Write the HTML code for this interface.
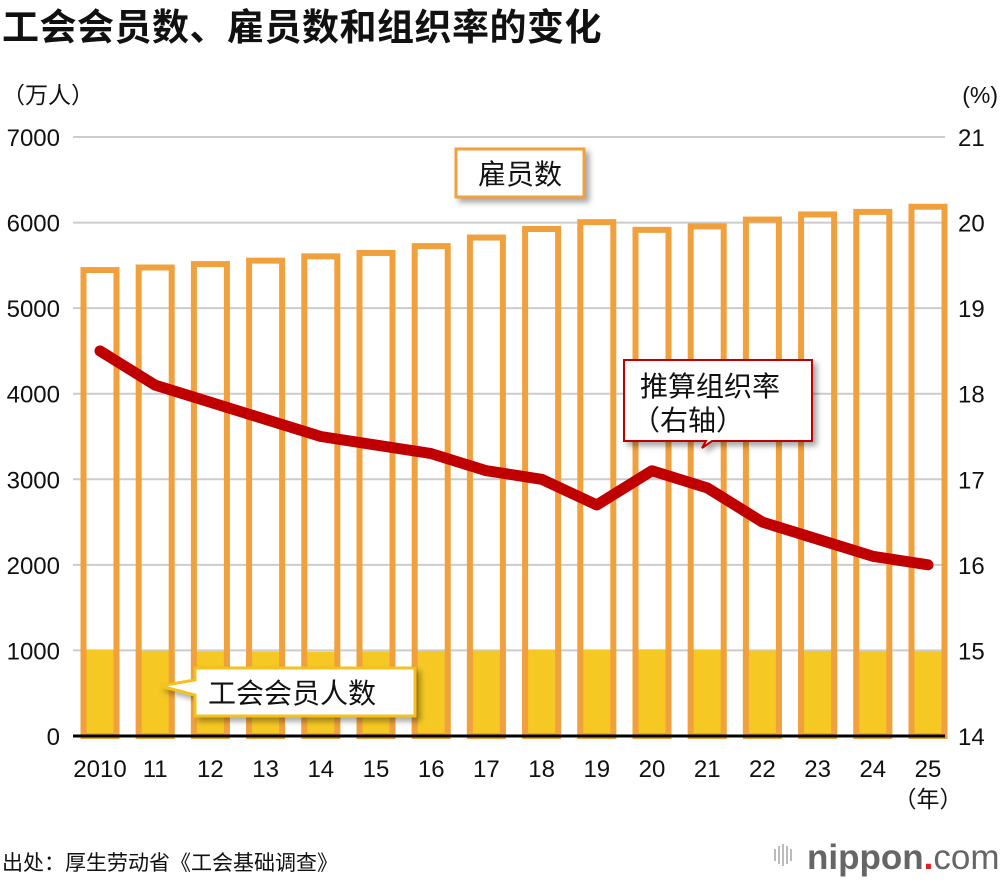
<!DOCTYPE html>
<html><head><meta charset="utf-8"><style>
body{margin:0;background:#fff;width:1000px;height:880px;overflow:hidden}
text{font-family:"Liberation Sans","Noto Sans CJK SC",sans-serif}
</style></head><body>
<svg id="c" width="1000" height="880" xmlns="http://www.w3.org/2000/svg">
<defs><filter id="sh" x="-10%" y="-10%" width="130%" height="140%"><feDropShadow dx="4" dy="4" stdDeviation="3" flood-color="#000" flood-opacity="0.35"/></filter></defs>
<text x="2" y="40" font-size="37" font-weight="bold" fill="#111" letter-spacing="0.5">工会会员数、雇员数和组织率的变化</text>
<text x="2" y="103" font-size="23" fill="#111">（万人）</text>
<text x="998" y="103" font-size="23" fill="#111" text-anchor="end">(%)</text>
<g id="grid"></g><g id="bars"></g><g id="line"></g><g id="axes"></g>
<g filter="url(#sh)">
<rect x="456" y="149" width="128" height="48" fill="#fff" stroke="#f0a03c" stroke-width="3"/>
</g>
<text x="520" y="184" font-size="28" text-anchor="middle" fill="#111">雇员数</text>
<g filter="url(#sh)">
<path d="M624,360 H812 V441 H712 L702,448 L706,441 H624 Z" fill="#fff" stroke="#c00000" stroke-width="2"/>
</g>
<text x="640" y="396" font-size="28" fill="#111">推算组织率</text>
<text x="632" y="430" font-size="28" fill="#111">（右轴）</text>
<g filter="url(#sh)">
<path d="M195,668 H415 V716 H195 V695 L160,686 L195,680 Z" fill="#fff" stroke="#f3c21c" stroke-width="3"/>
</g>
<text x="208" y="703" font-size="28" fill="#111">工会会员人数</text>
<text x="2" y="870" font-size="21" fill="#111">出处：厚生劳动省《工会基础调查》</text>
<g>
<g fill="#bbb"><rect x="774" y="849" width="2" height="12"/><rect x="778" y="846" width="2" height="18"/><rect x="782" y="844" width="2" height="22"/><rect x="786" y="846" width="2" height="18"/><rect x="790" y="849" width="2" height="12"/></g>
<text x="807" y="869" font-size="35" fill="#666" font-weight="bold">nippon<tspan fill="#e02020">.</tspan><tspan font-weight="normal">com</tspan></text>
</g>
</svg>
<script>
const years=["2010","11","12","13","14","15","16","17","18","19","20","21","22","23","24","25"];
const employees=[5480,5510,5550,5590,5640,5680,5760,5860,5960,6040,5950,5990,6070,6130,6160,6220];
const members=[1005,996,989,987,985,988,994,998,1007,1009,1012,1008,999,994,991,990];
const rate=[18.5,18.1,17.9,17.7,17.5,17.4,17.3,17.1,17.0,16.7,17.1,16.9,16.5,16.3,16.1,16.0];
const leftTicks=[0,1000,2000,3000,4000,5000,6000,7000];
const rightTicks=[14,15,16,17,18,19,20,21];
const NS="http://www.w3.org/2000/svg";
const y0=736,y7=137;
const yL=v=>y0-(v/7000)*(y0-y7);
const yR=v=>y0-((v-14)/7)*(y0-y7);
const xC=i=>100+i*55.2;
function mk(p,t,a){const e=document.createElementNS(NS,t);for(const k in a)e.setAttribute(k,a[k]);document.getElementById(p).appendChild(e);return e;}
leftTicks.forEach((v,i)=>{
 if(v>0){const g=mk('grid','line',{x1:73,x2:945,y1:yL(v),y2:yL(v),stroke:'#ccc','stroke-width':2});
 
 }
 const t=mk('axes','text',{x:60,y:yL(v)+9,'font-size':24,'text-anchor':'end',fill:'#111'});t.textContent=v;
 
 
 const r=mk('axes','text',{x:958,y:yR(rightTicks[i])+9,'font-size':24,fill:'#111'});r.textContent=rightTicks[i];
 
 
});
years.forEach((y,i)=>{
 const x=xC(i),w=39;
 const m=mk('bars','rect',{x:x-w/2,y:yL(members[i]),width:w,height:y0-yL(members[i]),fill:'#f5c824'});
 
 
 const b=mk('bars','rect',{x:x-w/2+3,y:yL(employees[i])+3,width:w-6,height:y0-yL(employees[i])-3,fill:'none',stroke:'#f0a03c','stroke-width':6});
 
 
 const t=mk('axes','text',{x:x,y:777,'font-size':24,'text-anchor':'middle',fill:'#111'});t.textContent=y;
 
 
});
const yr=mk('axes','text',{x:xC(15),y:807,'font-size':23,'text-anchor':'middle',fill:'#111'});yr.textContent='（年）';


const base=mk('axes','line',{x1:73,x2:945,y1:y0,y2:y0,stroke:'#000','stroke-width':3});


const pl=mk('line','polyline',{points:rate.map((v,i)=>xC(i)+','+yR(v)).join(' '),fill:'none',stroke:'#c00000','stroke-width':11,'stroke-linecap':'round','stroke-linejoin':'round'});


</script>
</body></html>
